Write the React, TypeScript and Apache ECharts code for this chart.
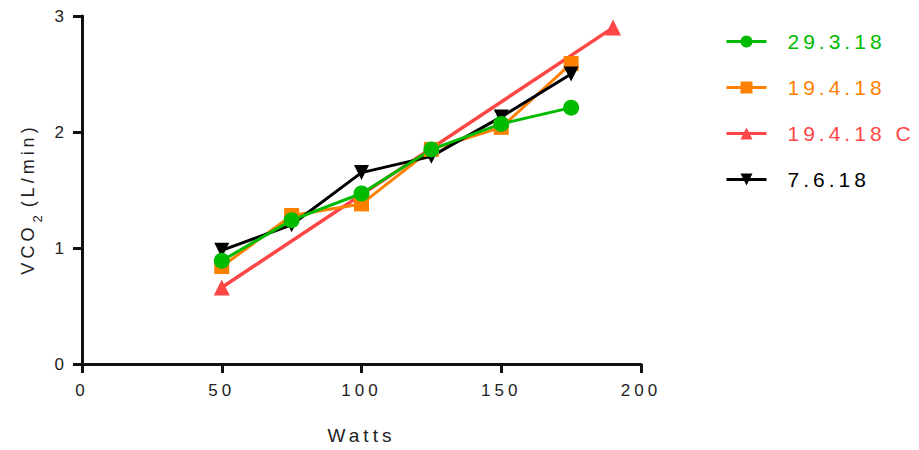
import React, { useEffect, useRef } from "react";
import * as echarts from "echarts";

// Workload in watts and CO2 output (L/min) for each test day
const watts = [50, 75, 100, 125, 150, 175];
const day1Name = "29.3.18";
const day1Vco2 = [0.89, 1.24, 1.47, 1.85, 2.07, 2.21];
const day2Name = "19.4.18";
const day2Vco2 = [0.84, 1.28, 1.38, 1.85, 2.04, 2.59];
const day2cName = "19.4.18 C";
const day2cWatts = [50, 190];
const day2cVco2 = [0.66, 2.9];
const day3Name = "7.6.18";
const day3Vco2 = [0.98, 1.2, 1.65, 1.79, 2.13, 2.5];

const xTicks = { min: 0, max: 200, interval: 50 };
const yTicks = { min: 0, max: 3, interval: 1 };

const GREEN = "#00bb00";
const ORANGE = "#ff8000";
const RED = "#ff4646";
const BLACK = "#000000";
const FONT = "Liberation Sans, Arial, sans-serif";
const SPACING = 4; // px of letter spacing applied to every text

const pairs = (xs: number[], ys: number[]) => xs.map((x, i) => [x, ys[i]]);

export default function App() {
  const ref = useRef<HTMLDivElement>(null);

  useEffect(() => {
    if (!ref.current) return;
    const chart = echarts.init(ref.current, undefined, { renderer: "svg" });

    const axisCommon = {
      axisLine: { show: true, onZero: false, lineStyle: { color: "#111", width: 3 } },
      axisTick: { show: true, length: 9, lineStyle: { color: "#111", width: 3 } },
      splitLine: { show: false },
      axisLabel: { color: "#222", fontSize: 17, fontFamily: FONT },
    };

    const lineSeries = (
      name: string,
      data: number[][],
      color: string,
      symbol: string,
      symbolSize: number,
      rotate = 0,
      width = 3
    ) => ({
      name,
      type: "line",
      data,
      symbol,
      symbolSize,
      symbolRotate: rotate,
      showSymbol: true,
      itemStyle: { color },
      lineStyle: { color, width },
      emphasis: { disabled: true },
    });

    // rich-text pieces are laid out from measured widths, so pad each piece
    // by the extra width the letter spacing adds
    const pad = (n: number, extra = 0) => [0, n * SPACING + extra, 0, 0];

    chart.setOption({
      animation: false,
      textStyle: { fontFamily: FONT },
      grid: { left: 82, right: 278, top: 16, bottom: 86, containLabel: false },
      xAxis: {
        type: "value",
        ...xTicks,
        ...axisCommon,
        axisLabel: { ...axisCommon.axisLabel, margin: 18 },
        name: "Watts",
        nameLocation: "middle",
        nameGap: 62,
        nameTextStyle: { color: "#222", fontSize: 19, fontFamily: FONT },
      },
      yAxis: {
        type: "value",
        ...yTicks,
        ...axisCommon,
        axisLabel: { ...axisCommon.axisLabel, margin: 14 },
        name: "{a|VCO}{sub|2}{b| (L/min)}",
        nameLocation: "middle",
        nameGap: 38,
        nameTextStyle: {
          color: "#222",
          fontSize: 18,
          fontFamily: FONT,
          rich: {
            a: { fontSize: 18, color: "#222", fontFamily: FONT, lineHeight: 24, padding: pad(3, -3) },
            sub: {
              fontSize: 13,
              color: "#222",
              fontFamily: FONT,
              verticalAlign: "bottom",
              lineHeight: 32,
              padding: pad(2, 5),
            },
            b: { fontSize: 18, color: "#222", fontFamily: FONT, lineHeight: 24, padding: pad(7) },
          },
        },
      },
      legend: {
        orient: "vertical",
        left: 725,
        top: 31,
        padding: 0,
        itemWidth: 40,
        itemHeight: 15,
        itemGap: 25,
        selectedMode: false,
        lineStyle: { width: 3 },
        textStyle: { fontSize: 21, fontFamily: FONT, padding: [0, 0, 0, 16] },
        data: [
          { name: day1Name, textStyle: { color: GREEN } },
          { name: day2Name, textStyle: { color: ORANGE } },
          { name: day2cName, textStyle: { color: RED } },
          { name: day3Name, textStyle: { color: BLACK } },
        ],
      },
      series: [
        lineSeries(day2cName, pairs(day2cWatts, day2cVco2), RED, "triangle", 16, 0, 3.5),
        lineSeries(day2Name, pairs(watts, day2Vco2), ORANGE, "rect", 15),
        lineSeries(day3Name, pairs(watts, day3Vco2), BLACK, "triangle", 15, 180),
        lineSeries(day1Name, pairs(watts, day1Vco2), GREEN, "circle", 16),
      ],
    });

    return () => chart.dispose();
  }, []);

  return (
    <div
      ref={ref}
      style={{
        position: "absolute",
        left: 0,
        top: 0,
        width: 919,
        height: 450,
        background: "#fff",
        letterSpacing: `${SPACING}px`,
      }}
    />
  );
}
